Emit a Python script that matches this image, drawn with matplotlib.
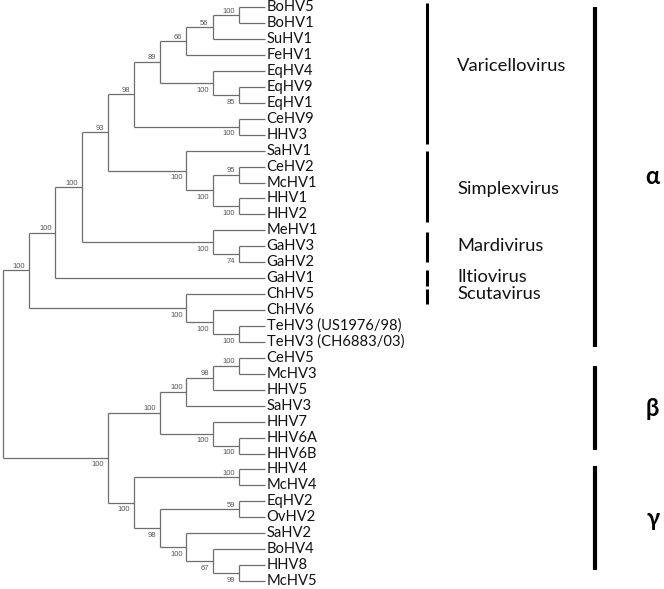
import matplotlib
matplotlib.use('Agg')
import matplotlib.pyplot as plt

# tree in nested lists: [child, child, support]
tree = [
    [[[[[[[[['BoHV5', 'BoHV1', 100], 'SuHV1', 56], 'FeHV1', 66],
          ['EqHV4', ['EqHV9', 'EqHV1', 85], 100], 89],
         ['CeHV9', 'HHV3', 100], 98],
        ['SaHV1', [['CeHV2', 'McHV1', 95], ['HHV1', 'HHV2', 100], 100], 100], 93],
       ['MeHV1', ['GaHV3', 'GaHV2', 74], 100], 100],
      'GaHV1', 100],
     ['ChHV5', ['ChHV6', ['TeHV3 (US1976/98)', 'TeHV3 (CH6883/03)', 100], 100], 100], 100],
    [[[[['CeHV5', 'McHV3', 100], 'HHV5', 98], 'SaHV3', 100],
      ['HHV7', ['HHV6A', 'HHV6B', 100], 100], 100],
     [['HHV4', 'McHV4', 100],
      [['EqHV2', 'OvHV2', 59],
       ['SaHV2', ['BoHV4', ['HHV8', 'McHV5', 99], 67], 100], 98], 100], 100],
    None]

# genus / subfamily annotation
genera = ['Varicellovirus', 'Simplexvirus', 'Mardivirus', 'Iltiovirus', 'Scutavirus']
genus_bar = [(-0.25, 8.6), (9.05, 13.5), (14.1, 16.0), (16.5, 17.5), (17.7, 18.6)]
genus_text_y = [3.68, 11.4, 15.0, 16.9, 18.0]
subfam = ['α', 'β', 'γ']
subfam_bar = [(0.0, 21.3), (22.5, 27.8), (28.8, 35.3)]

leaves = []
def height(n):
    if isinstance(n, str):
        return 0
    return 1 + max(height(c) for c in n[:-1])

H = height(tree)
segs = []
boots = []

def layout(n, first=True):
    if isinstance(n, str):
        leaves.append(n)
        return H, len(leaves) - 1
    kids = n[:-1]
    pos = [layout(c, i == 0) for i, c in enumerate(kids)]
    x = H - height(n)
    y = (pos[0][1] + pos[-1][1]) / 2.0
    segs.append(([x, x], [pos[0][1], pos[-1][1]]))
    for cx, cy in pos:
        segs.append(([x, cx], [cy, cy]))
    if n[-1] is not None:
        boots.append((x, y, n[-1], first))
    return x, y

layout(tree)

fig = plt.figure(figsize=(6.64, 5.89), dpi=100)
ax = fig.add_axes([0, 0, 1, 1])
ax.set_xlim(-0.115, 25.23)
ax.set_ylim(36.5, -0.45)
ax.axis('off')

for xs, ys in segs:
    ax.plot(xs, ys, color='#6e6e6e', lw=0.9, solid_capstyle='butt')

for i, name in enumerate(leaves):
    ax.text(H + 0.06, i, name, fontsize=10.6, family=['Lato', 'DejaVu Sans'],
            va='center', ha='left', color='#111111')

for x, y, b, first in boots:
    dy = -0.25 if first else 0.45
    ax.text(x - 0.15, y + dy, str(b), fontsize=5.5, family='Liberation Sans',
            color='#555555', ha='right', va='center')

for name, (y0, y1), ty in zip(genera, genus_bar, genus_text_y):
    ax.plot([16.18, 16.18], [y0, y1], color='black', lw=2.2, solid_capstyle='butt')
    ax.text(17.33, ty, name, fontsize=13.2, family=['Lato', 'DejaVu Sans'],
            va='center', ha='left', color='#111111')

for name, (y0, y1) in zip(subfam, subfam_bar):
    ax.plot([22.6, 22.6], [y0, y1], color='black', lw=3, solid_capstyle='butt')
    ax.text(24.8, (y0 + y1) / 2.0, name, fontsize=17, fontweight='bold',
            family=['Lato', 'DejaVu Sans'], va='center', ha='center')

fig.savefig('out.png', dpi=100)
